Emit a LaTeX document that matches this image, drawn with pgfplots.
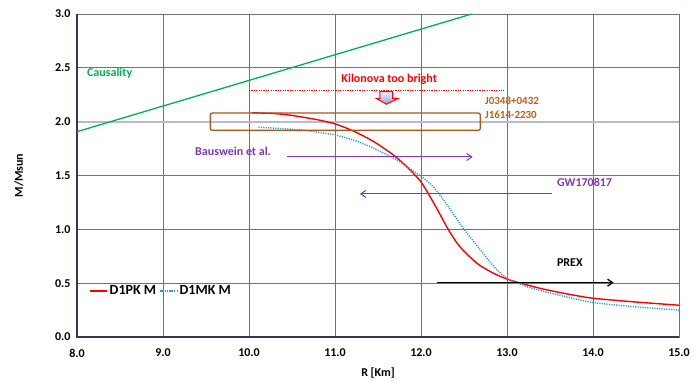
\documentclass[border=0pt]{standalone}
\usepackage{fontspec}
\setmainfont{Carlito}
\usepackage{pgfplots}
\pgfplotsset{compat=1.18}
\usetikzlibrary{arrows.meta}
\definecolor{cgreen}{RGB}{0,176,80}
\definecolor{cblue}{RGB}{46,155,214}
\definecolor{cbrown}{RGB}{170,85,25}
\definecolor{cbrowntext}{RGB}{190,95,20}
\definecolor{cpurple}{RGB}{128,55,180}
\definecolor{cgrid}{RGB}{112,112,142}
\definecolor{caxis}{RGB}{55,55,85}
\definecolor{clight}{RGB}{185,185,210}
\begin{document}
\begin{tikzpicture}
\begin{axis}[
  scale only axis, width=602pt, height=323pt,
  xmin=8, xmax=15, ymin=0, ymax=3,
  xtick={8,9,...,15}, ytick={0,0.5,...,3},
  xmajorgrids=true, ymajorgrids=true,
  major grid style={draw=cgrid, line width=0.9pt},
  major tick length=0pt,
  axis line style={draw=cgrid, line width=0.9pt},
  /pgf/number format/.cd, fixed, fixed zerofill, precision=1, assume math mode=true, /pgfplots/.cd,
  ticklabel style={font=\fontsize{12}{14}\selectfont\bfseries},
  xticklabel style={anchor=center, yshift=-16pt},
  yticklabel style={anchor=east, xshift=-3pt},
  xlabel={R [Km]}, ylabel={M/Msun},
  label style={font=\fontsize{12}{14}\selectfont\bfseries},
  x label style={at={(axis description cs:0.5,0)}, anchor=center, yshift=-36pt},
  y label style={at={(axis description cs:0,0.5)}, anchor=center, rotate=0, yshift=58pt},
  legend style={at={(0.015,0.143)}, anchor=west, draw=none, fill=none,
    font=\fontsize{14}{16}\selectfont\bfseries, legend columns=2,
    /tikz/every even column/.append style={column sep=1pt}},
  clip=false,
]
% thick grey line at 2.0
\addplot[clight, line width=2.2pt, forget plot] coordinates {(8,2) (15,2)};

\addplot[red, line width=1.4pt, smooth, tension=0.4] coordinates {
(10.03,2.083) (10.3,2.075) (10.48,2.06) (10.75,2.025) (11.0,1.98) (11.23,1.907)
(11.45,1.815) (11.68,1.69) (11.85,1.57) (12.0,1.44) (12.1,1.31) (12.2,1.17)
(12.32,0.994) (12.45,0.84) (12.65,0.685) (12.84,0.593) (13.03,0.53) (13.38,0.453)
(13.7,0.40) (14.0,0.36) (14.5,0.325) (15.0,0.295)
};
\addlegendentry{D1PK M}
\addplot[cblue, line width=1.4pt, dash pattern=on 1.2pt off 1.2pt, smooth, tension=0.4] coordinates {
(10.11,1.948) (10.4,1.935) (10.67,1.917) (11.0,1.876) (11.25,1.82) (11.45,1.753)
(11.72,1.644) (11.95,1.52) (12.1,1.43) (12.2,1.34) (12.3,1.23) (12.4,1.115)
(12.5,1.0) (12.6,0.9) (12.69,0.81) (12.84,0.66) (12.93,0.59) (13.03,0.53)
(13.3,0.45) (13.6,0.39) (14.0,0.32) (14.5,0.28) (15.0,0.25)
};
\addlegendentry{D1MK M}

% axes (left, bottom)
\addplot[caxis, line width=1.6pt, forget plot] coordinates {(8,3) (8,0) (15,0)};

% causality
\addplot[cgreen, line width=1.3pt, forget plot] coordinates {(8,1.907) (12.59,3.0)};
% kilonova limit
\addplot[red, line width=0.6pt, dash pattern=on 1.2pt off 1.2pt, forget plot] coordinates {(10,2.294) (12.96,2.294)};

% pulsar box
\draw[cbrown, line width=1.3pt, rounded corners=2pt] (axis cs:9.55,1.92) rectangle (axis cs:12.69,2.08);

% block arrow
\draw[red, line width=1pt, top color=blue!5!white, bottom color=blue!30!gray!60]
  (axis cs:11.523,2.279) -- (axis cs:11.671,2.279) -- (axis cs:11.671,2.217)
  -- (axis cs:11.736,2.217) -- (axis cs:11.598,2.162) -- (axis cs:11.477,2.217)
  -- (axis cs:11.523,2.217) -- cycle;

% arrows
\draw[cpurple, line width=1pt, -{Straight Barb[length=5pt,width=7pt]}] (axis cs:10.44,1.672) -- (axis cs:12.6,1.672);
\draw[cpurple, line width=1pt, -{Straight Barb[length=5pt,width=7pt]}] (axis cs:13.52,1.329) -- (axis cs:11.29,1.329);
\draw[black, line width=1.3pt, -{Straight Barb[length=5pt,width=7pt]}] (axis cs:12.19,0.505) -- (axis cs:14.24,0.505);

% texts
\node[cgreen, font=\fontsize{12}{14}\selectfont\bfseries] at (axis cs:8.38,2.452) {Causality};
\node[red, font=\fontsize{12}{14}\selectfont\bfseries] at (axis cs:11.63,2.396) {Kilonova too bright};
\node[cbrowntext, anchor=west, inner sep=0pt, font=\fontsize{11}{13}\selectfont\bfseries] at (axis cs:12.744,2.19) {J0348+0432};
\node[cbrowntext, anchor=west, inner sep=0pt, font=\fontsize{11}{13}\selectfont\bfseries] at (axis cs:12.744,2.062) {J1614-2230};
\node[cpurple, anchor=west, inner sep=0pt, font=\fontsize{12}{14}\selectfont\bfseries] at (axis cs:9.372,1.728) {Bauswein et al.};
\node[cpurple, anchor=west, inner sep=0pt, font=\fontsize{12}{14}\selectfont\bfseries] at (axis cs:13.58,1.44) {GW170817};
\node[black, anchor=west, inner sep=0pt, font=\fontsize{12}{14}\selectfont\bfseries] at (axis cs:13.58,0.688) {PREX};
\end{axis}
\path ([shift={(-77pt,-42pt)}]current axis.south west) rectangle ([shift={(21pt,14pt)}]current axis.north east);
\end{tikzpicture}
\end{document}
